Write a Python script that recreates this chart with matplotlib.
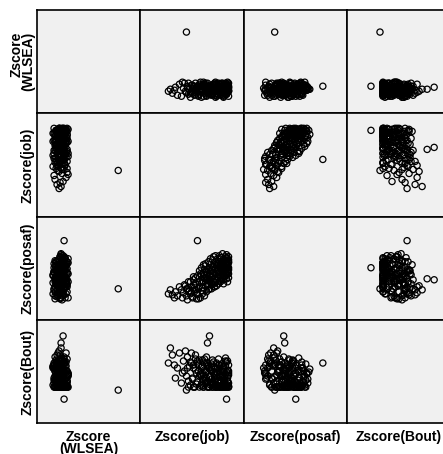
import matplotlib
matplotlib.use('Agg')
import numpy as np
import matplotlib.pyplot as plt

plt.rcParams['font.family'] = ['Liberation Sans', 'DejaVu Sans']

# variable names / axis labels
names = ['WLSEA', 'job', 'posaf', 'Bout']
labels = ['Zscore\n(WLSEA)', 'Zscore(job)', 'Zscore(posaf)', 'Zscore(Bout)']

# z-scores (one entry per case, same order in every list)
z_wlsea = [5.7, 0.3, 0.2, 0.0, 0.3, -0.2, 0.0,
           -0.4, 0.2, -0.6, 0.5, -0.1,
           -0.7, 0.1, 0.6, -0.3, 0.3, -0.5, 0.0, 0.7, -0.2, -0.8,
           0.4, -0.4, 0.1, -0.6, 0.6, -0.1, 0.2, -0.7, 0.5, -0.3, 0.0, -0.5, 0.3, -0.2, 0.7,
           -0.8, 0.0, 0.4, -0.4, 0.1, -0.6, 0.6, -0.2, 0.2, -0.5, 0.3, -0.1, 0.5, -0.7, 0.1,
           -0.3, 0.7, 0.0, -0.4, 0.3,
           -0.6, 0.1, 0.5, -0.2, -0.8, 0.3, -0.1, 0.6, -0.4, 0.2, -0.5, 0.0, 0.4, -0.3, 0.7,
           -0.7, 0.1, -0.1, 0.5, -0.4, 0.2, -0.2, -0.6, 0.3, 0.0,
           -0.3, 0.4, -0.8, 0.1, 0.6, -0.5, -0.1, 0.3, -0.2, 0.2, -0.6, 0.5, 0.0, -0.4, 0.7,
           -0.7, 0.1, -0.3, 0.4, -0.1, 0.2, -0.5, 0.0, 0.6, -0.2,
           0.1, -0.4, 0.4, -0.1, -0.6, 0.6, -0.2, 0.2, -0.5, 0.3,
           0.0, -0.3, 0.5, -0.7, 0.1, 0.6, -0.2, 0.3, -0.5, 0.0, 0.4, -0.4, 0.2, -0.1, -0.6,
           0.5, -0.3, 0.1, 0.3, -0.2, 0.0, -0.5, 0.6, 0.2, -0.1,
           0.1, -0.4, 0.4, -0.2, 0.2, -0.6, 0.6, 0.0, -0.3, 0.3, -0.1, -0.5, 0.5, 0.1, -0.2,
           0.2, -0.4, 0.4, 0.0, -0.7, 0.6, -0.1, 0.3, -0.3, 0.1, -0.5, 0.5, -0.2, 0.2, 0.0,
           0.4, -0.4, -0.1, 0.3, 0.1]
z_job = [-1.9, -0.8, 0.4, 0.2, 2.1, -3.7, -3.5,
         -3.3, -3.0, -2.8, -2.6, -3.1,
         -2.4, -2.2, -2.1, -1.9, -1.8, -1.7, -1.6, -2.3, -2.0, -1.5,
         -1.4, -1.3, -1.2, -1.1, -1.0, -0.9, -0.8, -0.7, -0.6, -1.4, -1.2, -1.0, -0.8, -0.6, -0.5,
         -0.4, -0.3, -0.2, -0.1, 0.0, 0.1, 0.2, 0.3, 0.4, 0.5, -0.4, -0.3, -0.1, 0.1, 0.3,
         0.4, -0.2, 0.0, 0.2, 0.5,
         0.6, 0.7, 0.8, 0.9, 1.0, 1.1, 1.2, 1.3, 1.4, 1.5, 0.6, 0.7, 0.8, 0.9, 1.0,
         1.1, 1.2, 1.3, 1.4, 1.5, 0.7, 0.9, 1.1, 1.3, 1.5,
         1.6, 1.7, 1.8, 1.9, 2.0, 2.1, 2.2, 2.3, 1.6, 1.7, 1.8, 1.9, 2.0, 2.1, 2.2,
         2.3, 1.8, 2.0, 2.2, 2.3, 1.6, 1.9, 2.1, 2.3, 2.2,
         -1.8, -1.5, -1.3, -1.0, -0.7, -1.7, -1.2, -0.9, -0.6, -1.1,
         -0.5, -0.4, -0.3, -0.2, -0.1, 0.0, 0.1, 0.2, 0.3, 0.4, 0.5, 0.6, 0.7, 0.8, 0.9,
         1.0, -0.3, -0.1, 0.1, 0.3, 0.5, 0.7, 0.9, -0.2, 0.6,
         1.0, 1.1, 1.2, 1.3, 1.4, 1.5, 1.6, 1.7, 1.8, 1.9, 2.0, 2.1, 2.2, 2.3, 2.3,
         2.2, 2.1, 2.0, 1.9, 1.8, 1.7, 1.6, 1.5, 1.4, 1.3, 1.2, 1.1, 2.3, 2.3, 2.2,
         2.1, 2.0, 1.9, 1.8, 1.7]
z_posaf = [-1.4, 3.4, -0.5, -0.4, 0.7, -1.9, -1.5,
           -2.0, -1.7, -2.1, -1.2, -2.3,
           -1.5, -1.8, -1.0, -2.1, -1.4, -0.7, -1.6, -2.3, -1.1, -1.9,
           -1.2, -2.2, -0.5, -1.7, -0.9, -2.4, -0.1, -1.4, -0.7, -1.8, -1.0, -0.3, -2.0, -1.2, 0.1,
           -0.8, -1.6, -0.2, 0.5, -1.1, -0.5, 0.2, -0.9, 0.7, -0.6, 0.0, -1.3, -0.4, 0.3, -1.5,
           -0.1, -0.7, 0.9, -1.0, 0.4,
           -0.3, 0.5, -0.7, 1.0, 0.0, -0.5, 0.7, 0.2, 1.3, -0.1, -0.9, 0.1, 0.8, -0.4, 1.2,
           0.3, -0.2, 1.1, -0.6, 0.6, 1.5, -0.8, 0.9, 0.0, 1.7,
           0.4, 1.1, -0.1, 1.5, 0.6, 1.3, 0.2, 1.8, 0.8, -0.3, 1.4, 0.5, 1.0, 0.0, 1.6,
           0.7, 0.3, 1.2, 0.9, 0.1, 1.7, -0.2, 2.0, 1.3, 0.5,
           -2.5, -0.7, -2.3, -1.5, -2.4, -1.7, -0.2, -1.9, 0.4, -1.3,
           -2.3, 0.7, -1.9, 0.2, -2.1, 1.1, -1.7, -1.2, 1.3, -1.4, 1.6, -1.4, -1.0, 1.8, -1.2,
           -0.8, -0.6, 0.0, -0.3, 0.5, 0.1, 0.8, -1.2, 1.0, -0.3,
           1.9, -1.1, 1.6, -0.9, 1.9, -0.7, -0.5, 2.1, -0.5, -0.1, 1.8, -0.4, 1.1, -0.3, 1.5,
           0.3, 0.8, 0.1, 0.7, 1.1, 0.2, 0.7, 1.0, 0.2, -0.3, 0.4, 0.9, 0.5, 1.2, -0.7,
           1.7, 0.4, 1.4, -0.9, 1.2]
z_bout = [-1.7, 1.0, 3.7, 3.0, -2.6, 1.0, 2.5,
          1.8, -0.5, 0.5, 2.0, 0.8,
          -1.0, 1.2, 0.2, -0.3, 1.6, -0.8, 0.7, 0.0, 2.2, -1.2,
          1.0, -0.5, 0.5, -1.4, 1.4, 0.0, -0.9, 0.8, -0.3, 2.0, -1.4, 0.3, 1.2, -1.4, -0.1,
          0.6, -0.6, -1.4, 1.0, 0.1, 1.6, -0.8, -1.4, 0.5, -0.3, -1.1, 1.3, 0.3, -0.5, 0.8,
          -1.4, -0.2, -0.7, 0.7, -1.0,
          0.2, -1.4, 1.1, -0.4, 0.5, -1.2, 0.0, -0.8, 0.8, -1.4, -0.6, 1.3, -1.1, -0.1, -1.4,
          1.0, -0.5, 0.3, -1.4, -0.3, -0.9, 0.6, -1.4, 1.4, -0.7,
          0.2, -1.2, 0.7, -0.4, -1.4, 1.1, -0.8, 0.0, -1.4, -0.2, 0.5, -1.1, 1.5, -1.4, -0.3,
          0.8, -0.7, -1.4, 0.3, -1.0, 0.9, -0.5, 0.1, -1.3, 1.2,
          0.5, 1.1, -0.6, 1.8, 0.2, -1.4, 0.8, -1.1, 1.3, -1.4,
          -0.2, -1.3, 0.7, -0.7, 1.4, -1.0, 0.2, -1.4, 0.5, -0.4, -1.2, 0.9, -1.4, 0.0, -0.8,
          -1.4, 0.0, -0.5, 1.0, -1.4, 0.3, -1.0, -0.2, -1.4, 0.6,
          -0.6, 0.1, -1.4, 0.8, -1.0, -0.3, -1.4, 0.4, -0.7, -1.4, -0.1, -1.4, -0.5, -1.4, 0.2,
          -1.2, -1.4, 0.7, -0.9, -1.4, -0.4, -1.4, 0.1, -1.4, -0.7, 0.5, -1.2, -0.2, -1.4, -0.8,
          -1.4, 1.2, -1.2, 0.2, -1.4]

data = [z_wlsea, z_job, z_posaf, z_bout]
# axis range used for each variable (same in its row and its column)
lims = [(-2.4, 7.9), (-6.5, 3.8), (-4.5, 5.8), (-5.0, 5.3)]

W, H = 443.0, 454.0
left, top, cell = 37.0, 10.0, 103.3

fig = plt.figure(figsize=(W / 100, H / 100), dpi=100)

for i in range(4):          # row -> y variable
    for j in range(4):      # column -> x variable
        ax = fig.add_axes([(left + j * cell) / W, (H - top - (i + 1) * cell) / H,
                           cell / W, cell / H])
        ax.set_facecolor('#f0f0f0')
        if i != j:
            ax.scatter(data[j], data[i], s=20, facecolors='none',
                       edgecolors='black', linewidths=0.9)
        ax.set_xlim(lims[j])
        ax.set_ylim(lims[i])
        ax.set_xticks([])
        ax.set_yticks([])
        for sp in ax.spines.values():
            sp.set_linewidth(1.2)

# row labels (left) and column labels (bottom)
for k in range(4):
    yc = H - (top + (k + 0.5) * cell)
    fig.text(35 / W, yc / H, labels[k], rotation=90, ha='right', va='center',
             fontsize=10, fontweight='bold', linespacing=0.8)
    xc = left + (k + 0.5) * cell
    fig.text(xc / W, (H - 430) / H, labels[k], ha='center', va='top',
             fontsize=10, fontweight='bold', linespacing=0.8)

fig.savefig('out.png', dpi=100)
